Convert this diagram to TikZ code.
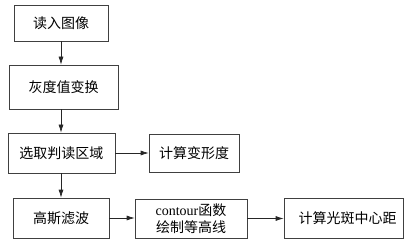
\documentclass[tikz,border=0pt]{standalone}
\usepackage{fontspec}
\setmainfont{Liberation Serif}
\newfontfamily\cjk{Noto Sans CJK SC}
\usetikzlibrary{arrows.meta}
\begin{document}
\begin{tikzpicture}[x=1pt,y=-1pt,
  box/.style={draw=black!75,line width=0.7pt,inner sep=0pt,align=center,
    font=\cjk\fontsize{14}{17}\selectfont},
  conn/.style={draw=black!85,line width=0.7pt,-{Latex[length=8pt,width=5pt]}}]
\useasboundingbox (0,0) rectangle (407,243);
\node[box,minimum width=94pt,minimum height=36pt] (b1) at (61,23) {读入图像};
\node[box,minimum width=109pt,minimum height=44pt] (b2) at (63.5,87) {灰度值变换};
\node[box,minimum width=107pt,minimum height=40pt] (b3) at (61.5,153) {选取判读区域};
\node[box,minimum width=90pt,minimum height=38pt] (b4) at (194,153) {计算变形度};
\node[box,minimum width=96pt,minimum height=40pt] (b5) at (61,218) {高斯滤波};
\node[box,minimum width=112pt,minimum height=39pt] (b6) at (191,218.5) {{\rmfamily\fontsize{14}{17}\selectfont contour}函数\\绘制等高线};
\node[box,minimum width=119pt,minimum height=40pt] (b7) at (343.5,218) {\hspace{8pt}计算光斑中心距};
\draw[conn] (b1.south) -- (b1.south |- b2.north);
\draw[conn] (b2.south -| b1.south) -- (b1.south |- b3.north);
\draw[conn] (b3.east) -- (b4.west |- b3.east);
\draw[conn] (b3.south -| b1.south) -- (b1.south |- b5.north);
\draw[conn] (b5.east) -- (b6.west |- b5.east);
\draw[conn] (b6.east) -- (b7.west |- b6.east);
\end{tikzpicture}
\end{document}
